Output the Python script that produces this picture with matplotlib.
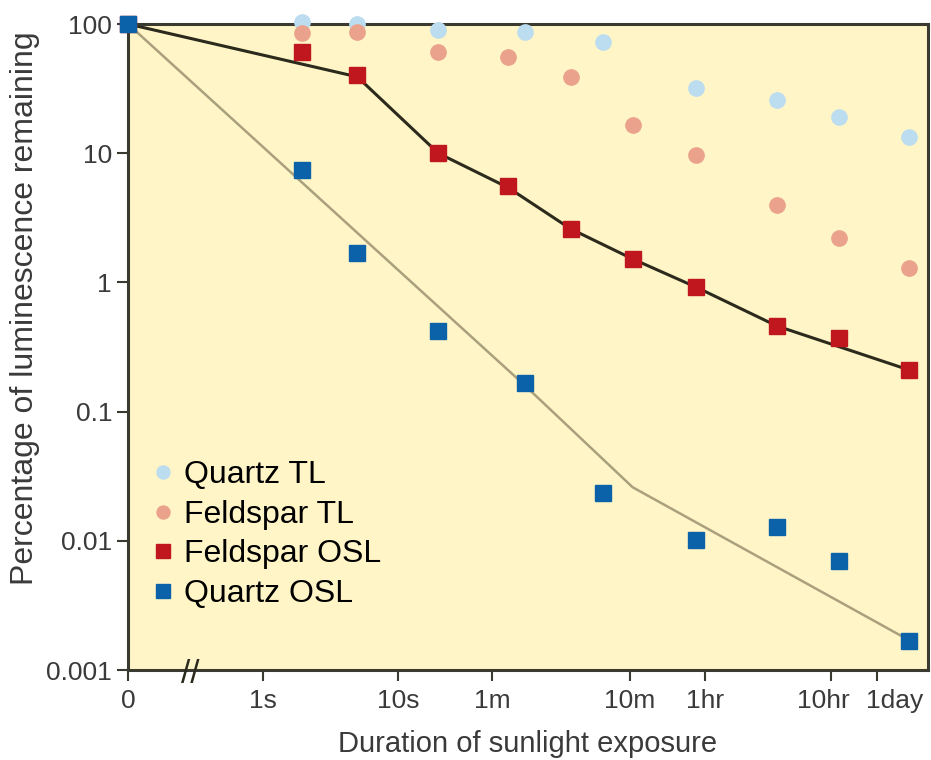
import matplotlib.pyplot as plt
import matplotlib.transforms as mtransforms

plt.rcParams.update({
    "font.family": ["Liberation Sans", "DejaVu Sans"],
    "xtick.labelsize": 19,
    "ytick.labelsize": 19,
})

# x positions on the drawn (broken, log-like) time axis; 1s = 0, 10s = 1
tick_pos = [-1.0, 0.0, 1.0, 1.70, 2.72, 3.28, 4.21, 4.55]
tick_labels = ["0", "1s", "10s", "1m", "10m", "1hr", "10hr", "1day"]

# quartz TL (light blue circles)
qtl_x = [-1.0, 0.29, 0.70, 1.30, 1.94, 2.52, 3.21, 3.81, 4.27, 4.79]
qtl_y = [100, 104, 100, 90, 87, 73, 32, 26, 19, 13.3]

# feldspar TL (salmon circles)
ftl_x = [-1.0, 0.29, 0.70, 1.30, 1.82, 2.28, 2.74, 3.21, 3.81, 4.27, 4.79]
ftl_y = [100, 85, 87, 61, 56, 39, 16.5, 9.7, 4.0, 2.2, 1.3]

# feldspar OSL (red squares) and its fitted curve
fosl_x = [-1.0, 0.29, 0.70, 1.30, 1.82, 2.28, 2.74, 3.21, 3.81, 4.27, 4.79]
fosl_y = [100, 61, 40, 10, 5.6, 2.6, 1.52, 0.92, 0.46, 0.37, 0.21]
ffit_x = [-1.0, 0.70, 1.30, 1.82, 2.28, 2.74, 3.21, 3.81, 4.79]
ffit_y = [100, 39, 10, 5.4, 2.6, 1.52, 0.92, 0.46, 0.21]

# quartz OSL (blue squares) and its fitted curve
qosl_x = [-1.0, 0.29, 0.70, 1.30, 1.94, 2.52, 3.21, 3.81, 4.27, 4.79]
qosl_y = [100, 7.4, 1.7, 0.42, 0.166, 0.0234, 0.0101, 0.0128, 0.0070, 0.00168]
qfit_x = [-1.0, 1.94, 2.74, 4.79]
qfit_y = [100, 0.16, 0.026, 0.0017]

fig = plt.figure(figsize=(9.31, 7.6), dpi=100)
ax = fig.add_axes([0.1375, 0.1184, 0.8593, 0.85])
ax.set_facecolor("#fff5c6")

ax.plot(ffit_x, ffit_y, color="#2b2a1c", linewidth=2.2, zorder=2)
ax.plot(qfit_x, qfit_y, color="#a9a07e", linewidth=1.8, zorder=2)

ax.plot(qtl_x, qtl_y, "o", color="#bcdcf0", markersize=11, linestyle="none",
        label="Quartz TL", zorder=3, clip_on=False)
ax.plot(ftl_x, ftl_y, "o", color="#eba28c", markersize=11, linestyle="none",
        label="Feldspar TL", zorder=3, clip_on=False)
ax.plot(fosl_x, fosl_y, "s", color="#c0171f", markersize=12, linestyle="none",
        label="Feldspar OSL", zorder=4, clip_on=False)
ax.plot(qosl_x, qosl_y, "s", color="#0c62a8", markersize=12, linestyle="none",
        label="Quartz OSL", zorder=5, clip_on=False)

ax.set_yscale("log")
ax.set_ylim(0.001, 100)
ax.set_xlim(-1.0, 4.93)
ax.set_yticks([0.001, 0.01, 0.1, 1, 10, 100])
ax.set_yticklabels(["0.001", "0.01", "0.1", "1", "10", "100"])
ax.minorticks_off()
ax.set_xticks(tick_pos)
ax.set_xticklabels(tick_labels)
ax.tick_params(axis="both", direction="out", length=8, width=1.5,
               colors="#3a3a30", labelcolor="#3a3a3a")
ax.tick_params(axis="x", pad=6)

# nudge the two crowded labels apart, as in the original
shifts = {"10hr": -8, "1day": 18}
for lab in ax.get_xticklabels():
    dx = shifts.get(lab.get_text(), 0)
    if dx:
        lab.set_transform(lab.get_transform() +
                          mtransforms.ScaledTranslation(dx / 100, 0, fig.dpi_scale_trans))

for s in ax.spines.values():
    s.set_color("#3a3a30")
    s.set_linewidth(2.2)

# axis break mark
ax.text(-0.54, 0.00093, "//", fontsize=24, ha="center", va="center",
        color="#2b2a1c", clip_on=False, zorder=6)

ax.set_xlabel("Duration of sunlight exposure", color="#3a3a3a", fontsize=21, labelpad=12)
ax.set_ylabel("Percentage of luminescence remaining", color="#3a3a3a", fontsize=23)
ax.yaxis.set_label_coords(-0.11, 0.56)

ax.legend(loc="lower left", bbox_to_anchor=(-0.012, 0.05), frameon=False,
          fontsize=23, handletextpad=0.15, labelspacing=0.3, handlelength=1.0,
          markerscale=0.85)

fig.savefig("out.png", dpi=100)
